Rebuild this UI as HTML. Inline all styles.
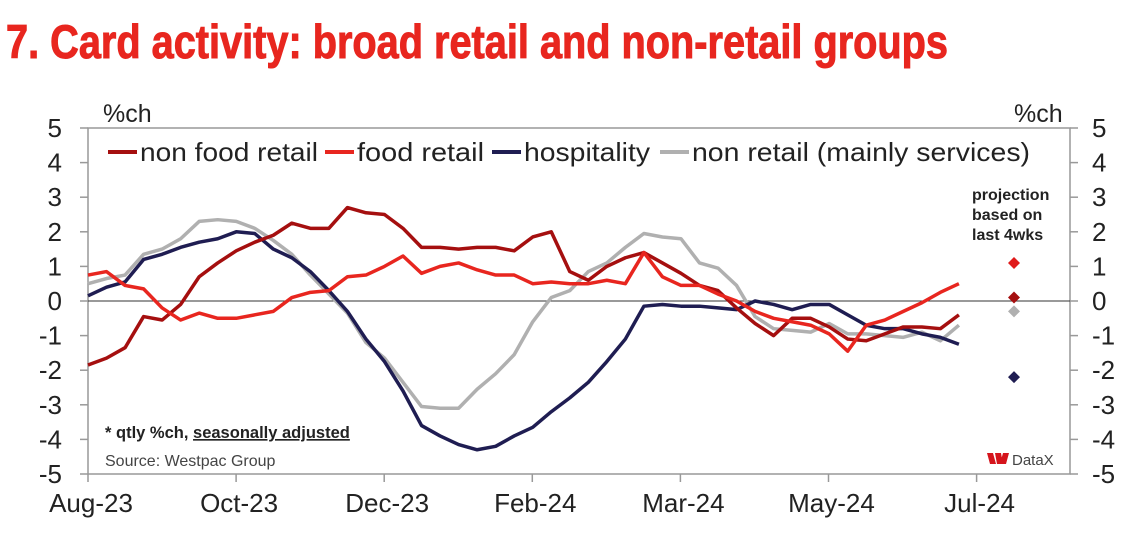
<!DOCTYPE html>
<html><head><meta charset="utf-8"><style>
body{margin:0;background:#fff;width:1133px;height:530px;overflow:hidden;font-family:"Liberation Sans",sans-serif}
svg text{font-family:"Liberation Sans",sans-serif}
</style></head><body>
<svg id="c" width="1133" height="530">
<text x="6" y="58" font-size="47" font-weight="bold" fill="#e8261f" stroke="#e8261f" stroke-width="1" font-family="Liberation Sans Narrow, Liberation Sans, sans-serif" textLength="942" lengthAdjust="spacingAndGlyphs">7. Card activity: broad retail and non-retail groups</text>
<text x="103" y="122" font-size="25" fill="#222">%ch</text>
<text x="1014" y="122" font-size="25" fill="#222">%ch</text>
<rect x="88" y="128" width="982" height="346" fill="none" stroke="#999" stroke-width="1.5"/>
<g id="ticks"></g>
<g id="series"></g>
<g font-size="26" fill="#222">
<line x1="108" y1="152" x2="137" y2="152" stroke="#a50f0f" stroke-width="4"/><text x="140" y="161" textLength="178" lengthAdjust="spacingAndGlyphs">non food retail</text>
<line x1="325" y1="152" x2="354" y2="152" stroke="#e8261f" stroke-width="4"/><text x="357" y="161" textLength="127" lengthAdjust="spacingAndGlyphs">food retail</text>
<line x1="492" y1="152" x2="521" y2="152" stroke="#1f1d52" stroke-width="4"/><text x="524" y="161" textLength="126" lengthAdjust="spacingAndGlyphs">hospitality</text>
<line x1="660" y1="152" x2="689" y2="152" stroke="#b0b0b0" stroke-width="4"/><text x="692" y="161" textLength="338" lengthAdjust="spacingAndGlyphs">non retail (mainly services)</text>
</g>
<g font-size="16" font-weight="bold" fill="#222">
<text x="972" y="200">projection</text><text x="972" y="220">based on</text><text x="972" y="240">last 4wks</text></g>
<text x="105" y="438" font-size="16.5" font-weight="bold" fill="#222">* qtly %ch, <tspan text-decoration="underline">seasonally adjusted</tspan></text>
<text x="105" y="466" font-size="16" fill="#444">Source: Westpac Group</text>
<g><path d="M987 453h6l3 11h-6zM995 453h6l2 11h-6zM1003 453h6l-3 11h-6z" fill="#d5141c"/><text x="1012" y="465" font-size="15" fill="#444">DataX</text></g>
</svg>
<script>
const yTicks=[5,4,3,2,1,0,-1,-2,-3,-4,-5];
const xLabels=["Aug-23","Oct-23","Dec-23","Feb-24","Mar-24","May-24","Jul-24"];
const nonFood=[-1.85,-1.65,-1.35,-0.45,-0.55,-0.1,0.7,1.1,1.45,1.7,1.9,2.25,2.1,2.1,2.7,2.55,2.5,2.1,1.55,1.55,1.5,1.55,1.55,1.45,1.85,2.0,0.85,0.6,1.0,1.25,1.4,1.1,0.8,0.45,0.3,-0.2,-0.65,-1.0,-0.5,-0.5,-0.75,-1.1,-1.15,-0.95,-0.75,-0.75,-0.8,-0.4];
const food=[0.75,0.85,0.45,0.35,-0.2,-0.55,-0.35,-0.5,-0.5,-0.4,-0.3,0.1,0.25,0.3,0.7,0.75,1.0,1.3,0.8,1.0,1.1,0.9,0.75,0.75,0.5,0.55,0.5,0.5,0.6,0.5,1.4,0.7,0.45,0.45,0.2,0.0,-0.3,-0.5,-0.6,-0.7,-0.95,-1.45,-0.7,-0.55,-0.3,-0.05,0.25,0.5];
const hosp=[0.15,0.4,0.55,1.2,1.35,1.55,1.7,1.8,2.0,1.95,1.5,1.25,0.85,0.3,-0.3,-1.1,-1.75,-2.6,-3.6,-3.9,-4.15,-4.3,-4.2,-3.9,-3.65,-3.2,-2.8,-2.35,-1.75,-1.1,-0.15,-0.1,-0.15,-0.15,-0.2,-0.25,0.0,-0.1,-0.25,-0.1,-0.1,-0.4,-0.7,-0.8,-0.8,-0.95,-1.05,-1.25];
const nonRetail=[0.5,0.65,0.75,1.35,1.5,1.8,2.3,2.35,2.3,2.1,1.75,1.35,0.75,0.2,-0.35,-1.2,-1.65,-2.35,-3.05,-3.1,-3.1,-2.55,-2.1,-1.55,-0.6,0.1,0.3,0.85,1.1,1.55,1.95,1.85,1.8,1.1,0.95,0.45,-0.45,-0.8,-0.85,-0.9,-0.65,-0.95,-0.95,-1.0,-1.05,-0.9,-1.15,-0.7];
const projections=[1.1,0.1,-0.3,-2.2];
const y=v=>301-v*34.6;
const x=i=>88+i*18.53;
const xTick=i=>88+i*148.1;
const NS="http://www.w3.org/2000/svg";
const tg=document.getElementById('ticks'),sg=document.getElementById('series');
function mk(t,a,p){const e=document.createElementNS(NS,t);for(const k in a)e.setAttribute(k,a[k]);p.appendChild(e);return e;}
yTicks.forEach(v=>{
 mk('line',{x1:80,x2:88,y1:y(v),y2:y(v),stroke:'#999','stroke-width':1.5},tg);
 mk('line',{x1:1070,x2:1078,y1:y(v),y2:y(v),stroke:'#999','stroke-width':1.5},tg);
 const a=mk('text',{x:62,y:y(v)+9,'text-anchor':'end','font-size':26,fill:'#222'},tg);a.textContent=v;
 
 
 const b=mk('text',{x:1092,y:y(v)+9,'font-size':26,fill:'#222'},tg);b.textContent=v;
 
 
});
xLabels.forEach((l,i)=>{
 mk('line',{x1:xTick(i),x2:xTick(i),y1:474,y2:482,stroke:'#999','stroke-width':1.5},tg);
 const t=mk('text',{x:xTick(i)+3,y:512,'text-anchor':'middle','font-size':26,fill:'#222'},tg);t.textContent=l;
 
 
});
mk('line',{x1:88,x2:1070,y1:y(0),y2:y(0),stroke:'#333','stroke-width':1},tg);
const ser=[[nonRetail,'#b0b0b0','series-non-retail'],[hosp,'#1f1d52','series-hospitality'],[nonFood,'#a50f0f','series-non-food-retail'],[food,'#e8261f','series-food-retail']];
ser.forEach(([d,c,n])=>{
 const p=mk('polyline',{points:d.map((v,i)=>x(i)+','+y(v)).join(' '),fill:'none',stroke:c,'stroke-width':3.5,'stroke-linejoin':'round'},sg);
 
 
});
const pc=['#e01a1a','#a50f0f','#b0b0b0','#1f1d52'];
projections.forEach((v,i)=>{
 const cy=y(v),cx=1014;
 const d=mk('polygon',{points:`${cx},${cy-6} ${cx+6},${cy} ${cx},${cy+6} ${cx-6},${cy}`,fill:pc[i]},sg);
 
 
});
</script>
</body></html>
